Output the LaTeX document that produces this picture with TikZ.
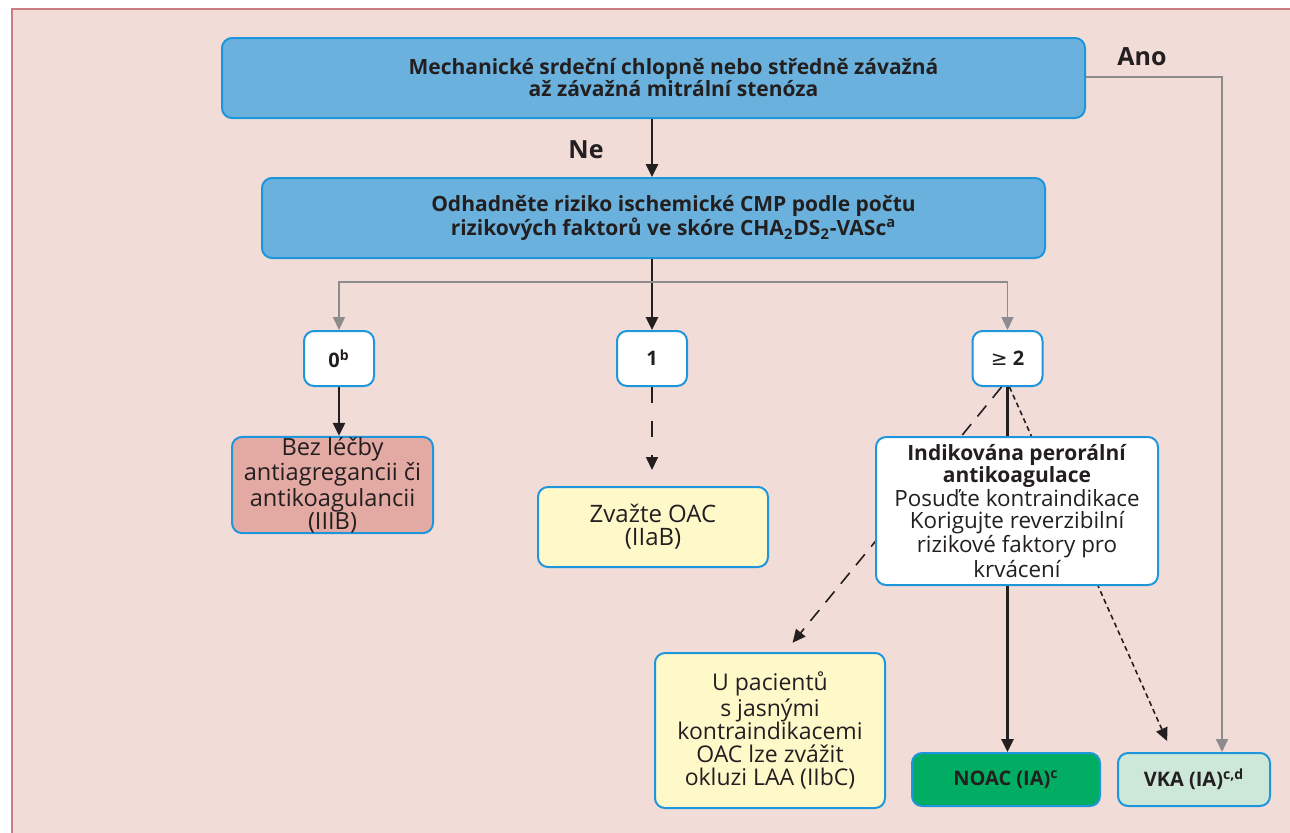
\documentclass[tikz,border=0pt]{standalone}
\usepackage{fontspec}
\setmainfont{Open Sans}
\newfontfamily\geqfont{DejaVu Sans}
\usepackage{tikz}
\usetikzlibrary{arrows.meta, positioning, calc}
\usepackage{xcolor}
\definecolor{bgpink}{HTML}{F2DCD7}
\definecolor{framepink}{HTML}{C97D85}
\definecolor{boxline}{HTML}{1E96DC}
\definecolor{topblue}{HTML}{6AB2DD}
\definecolor{salmon}{HTML}{E3A9A3}
\definecolor{cream}{HTML}{FFF9CA}
\definecolor{noacgreen}{HTML}{00AD63}
\definecolor{mint}{HTML}{CDE8D9}
\definecolor{txt}{HTML}{231F20}
\definecolor{lightline}{HTML}{8C8C8C}
\newcommand{\boldline}[1]{\textbf{\fontsize{10.5}{11}\selectfont #1}}
\newcommand{\textpush}{\hspace*{20pt}}

\begin{document}
\begin{tikzpicture}[x=0.5pt,y=-0.5pt,
  box/.style={draw=boxline, line width=1pt, rounded corners=5pt, align=center,
    inner sep=0pt, text=txt, font=\fontsize{11}{11.5}\selectfont},
  score/.style={box, fill=white, minimum width=35pt, minimum height=27.5pt,
    font=\bfseries\fontsize{10}{11.5}\selectfont},
  thick arrow/.style={line width=1.3pt, txt, -{Triangle[length=6.5pt,width=6pt]}},
  thin arrow/.style={line width=0.8pt, lightline, -{Triangle[length=6.5pt,width=6pt]}},
  lbl/.style={font=\bfseries\fontsize{12.5}{14}\selectfont, text=txt}]
  \useasboundingbox (0,0) rectangle (1290,832);
  \fill[white] (0,0) rectangle (1290,832);
  \fill[bgpink] (11,8) rectangle (1300,840);
  \draw[framepink, line width=1pt] (12,840) -- (12,9) -- (1300,9);

  \node[box, fill=topblue, minimum width=431.5pt, minimum height=40pt,
    font=\bfseries\fontsize{10.5}{11}\selectfont] (mech) at (653.5,78)
    {\textpush Mechanické srdeční chlopně nebo středně závažná\\\textpush až závažná mitrální stenóza};
  \node[box, fill=topblue, minimum width=391.5pt, minimum height=40pt,
    font=\bfseries\fontsize{10.5}{11}\selectfont] (odhad) at (653.5,218)
    {\textpush Odhadněte riziko ischemické CMP podle počtu\\\textpush rizikových faktorů ve skóre CHA\textsubscript{2}DS\textsubscript{2}-VASc\textsuperscript{a}};

  \node[score] (s0) at (339,358.5) {0\textsuperscript{b}};
  \node[score] (s1) at (652,358.5) {1};
  \node[score] (s2) at (1007.5,358.5) {{\geqfont\mdseries ≥} 2};

  \node[box, fill=salmon, minimum width=100.5pt, minimum height=47pt,
    font=\fontsize{11.8}{11.5}\selectfont] (bez) at (332.5,485)
    {Bez léčby\\antiagregancii či\\antikoagulancii\\(IIIB)};
  \node[box, fill=cream, minimum width=115pt, minimum height=40pt,
    font=\fontsize{12}{11.5}\selectfont] (zvaz) at (653,527)
    {Zvažte OAC\\(IIaB)};
  \node[box, fill=cream, minimum width=115pt, minimum height=77.5pt,
    font=\fontsize{11.5}{11.5}\selectfont] (upac) at (770,730.5)
    {U pacientů\\s jasnými\\kontraindikacemi\\OAC lze zvážit\\okluzi LAA (IIbC)};
  \node[box, fill=noacgreen, minimum width=94pt, minimum height=26.5pt,
    font=\bfseries\fontsize{10}{11.5}\selectfont] (noac) at (1006,779.5)
    {NOAC (IA)\textsuperscript{c}};
  \node[box, fill=mint, minimum width=76pt, minimum height=26.5pt,
    font=\bfseries\fontsize{10}{11.5}\selectfont] (vka) at (1194,779.5)
    {VKA (IA)\textsuperscript{c,d}};

  \draw[txt, line width=0.8pt, dash pattern=on 7pt off 5pt, -{Triangle[length=6.5pt,width=6pt]},
    shorten >=6pt] ([xshift=-3pt]s2.south) -- ([xshift=7.5pt]upac.north);
  \draw[txt, line width=0.8pt, dash pattern=on 2.5pt off 1.8pt, -{Triangle[length=6.5pt,width=6pt]},
    shorten >=6pt] ([xshift=1pt]s2.south) -- ([xshift=-11pt]vka.north);

  \node[box, fill=white, minimum width=141pt, minimum height=74pt,
    font=\fontsize{11.2}{11}\selectfont] (indik) at (1017,511)
    {\boldline{Indikována perorální}\\\boldline{antikoagulace}\\Posuďte kontraindikace\\Korigujte reverzibilní\\rizikové faktory pro\\krvácení};

  \draw[thick arrow] (mech.south -| 652,0) -- (odhad.north -| 652,0);
  \node[lbl] (ne) at (586,150) {Ne};
  \coordinate (anoc) at (1222,77);
  \draw[thin arrow, line width=1pt] (mech.east |- anoc) -- (anoc) -- (anoc |- vka.north);
  \node[lbl] (ano) at (1142,57) {Ano};

  \coordinate (split) at (652,282);
  \draw[thick arrow] (odhad.south -| s1) -- (s1.north);
  \draw[thin arrow] (split) -| (s0.north);
  \draw[thin arrow] (split) -| (s2.north);
  \draw[thick arrow] (s0.south) -- (s0.south |- bez.north);
  \draw[txt, line width=0.8pt, dash pattern=on 8pt off 9pt, -{Triangle[length=6.5pt,width=6pt]},
    shorten >=8pt] (s1.south) -- (s1.south |- zvaz.north);
  \draw[txt, line width=1.3pt] (s2.south) -- (s2.south |- indik.north);
  \draw[thick arrow] (indik.south -| s2) -- (noac.north -| s2);
\end{tikzpicture}
\end{document}
